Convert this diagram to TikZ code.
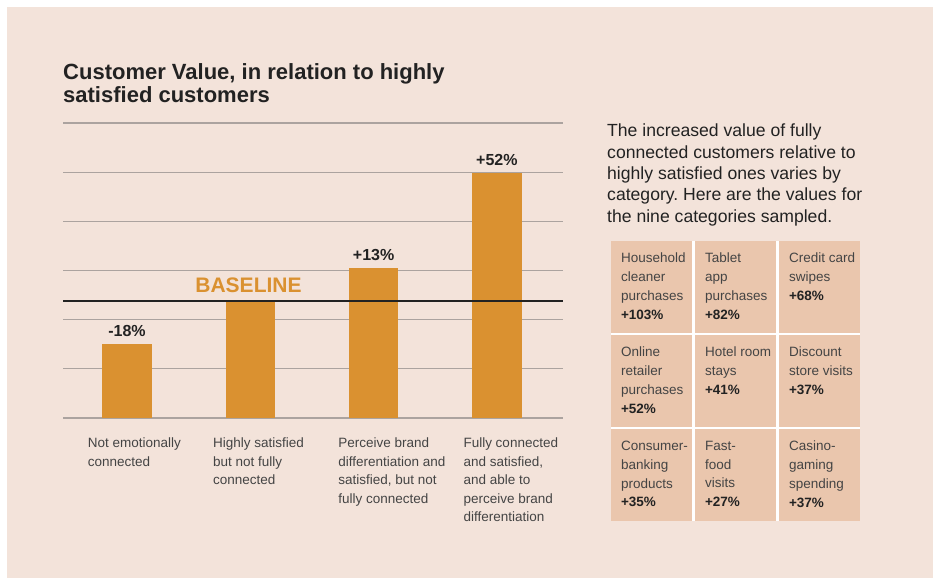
\documentclass[tikz,border=0pt]{standalone}
\usepackage{fontspec}
\setmainfont{Liberation Sans}
\frenchspacing
\definecolor{pagebg}{HTML}{F3E3DA}
\definecolor{barfill}{HTML}{DA9130}
\definecolor{cellfill}{HTML}{EAC6AD}
\definecolor{gridgrey}{HTML}{ABA39F}
\definecolor{inkdark}{HTML}{222222}
\definecolor{inkgrey}{HTML}{444444}

\begin{document}
\begin{tikzpicture}[x=1pt, y=-1pt]
	\tikzstyle{gridline}=[draw=gridgrey, line width=1.2pt]
	\tikzstyle{pct}=[anchor=base, text=inkdark, font=\fontsize{16}{16}\selectfont\bfseries]
	\tikzstyle{caption}=[anchor=north west, inner sep=0pt, align=left, text=inkgrey, font=\fontsize{13.5}{18.6}\selectfont]
	\tikzstyle{celltext}=[anchor=north west, inner sep=0pt, align=left, text=inkgrey, font=\fontsize{13.5}{18.7}\selectfont]
	\newcommand\Xleft{63}
	\newcommand\Xright{563}
	\newcommand\Ybottom{418}
	\newcommand\Ybase{301}
	\newcommand\Barw{49.4}

	\useasboundingbox (0,0) rectangle (933,578);
	\fill [pagebg] (7,7) rectangle (933,578);

	\node [anchor=north west, inner sep=0pt, align=left, text=inkdark, font=\fontsize{22}{23.5}\selectfont\bfseries] at (63,63.3) (title) {Customer Value, in relation to highly\\satisfied customers};

	% grid
\foreach \k in {0,...,6}
{
	\pgfmathsetmacro{\Y}{123 + \k * 49.17};
	\draw [gridline] (\Xleft,\Y) -- (\Xright,\Y);
}

	% bars
\foreach \i/\top/\val/\txt in {1/344/-18\%/{Not emotionally\\connected}, 2/301//{Highly satisfied\\but not fully\\connected}, 3/268/+13\%/{Perceive brand\\differentiation and\\satisfied, but not\\fully connected}, 4/173/+52\%/{Fully connected\\and satisfied,\\and able to\\perceive brand\\differentiation}}
{
	\pgfmathsetmacro{\XS}{102.3 + (\i - 1) * 123.3};
	\pgfmathsetmacro{\XT}{87.7 + (\i - 1) * 125.2};
	\fill [barfill] (\XS,\Ybottom) rectangle (\XS+\Barw,\top);
	\node [pct] (val\i) at (\XS+\Barw/2,\top-7.5) {\val};
	\node [caption] (cap\i) at (\XT,437.6) {\txt};
}

	\draw [draw=inkdark, line width=2.6pt] (\Xleft,\Ybase) -- (\Xright,\Ybase);
	\node [text=barfill, font=\fontsize{21}{21}\selectfont\bfseries] (baseline) at (248.5,285.7) {BASELINE};

	% right side
	\node [anchor=north west, inner sep=0pt, align=left, text=inkdark, font=\fontsize{17.6}{21.3}\selectfont] (intro) at (607,123.9) {The increased value of fully\\connected customers relative to\\highly satisfied ones varies by\\category. Here are the values for\\the nine categories sampled.};

	\fill [white] (611,241) rectangle (860,520.5);
\foreach \r/\c/\name/\val in {0/0/{Household\\cleaner\\purchases}/+103\%, 0/1/{Tablet\\app\\purchases}/+82\%, 0/2/{Credit card\\swipes}/+68\%, 1/0/{Online\\retailer\\purchases}/+52\%, 1/1/{Hotel room\\stays}/+41\%, 1/2/{Discount\\store visits}/+37\%, 2/0/{Consumer-\\banking\\products}/+35\%, 2/1/{Fast-\\food\\visits}/+27\%, 2/2/{Casino-\\gaming\\spending}/+37\%}
{
	\pgfmathsetmacro{\XC}{611 + \c * 84};
	\pgfmathsetmacro{\YC}{241 + \r * 94};
	\pgfmathtruncatemacro{\idx}{\r * 3 + \c + 1};
	\fill [cellfill] (\XC,\YC) rectangle (\XC+81,\YC+91.5);
	\node [celltext] (cell\idx) at (\XC+9.8,\YC+12) {\name\\\textcolor{inkdark}{\textbf{\val}}};
}

\end{tikzpicture}
\end{document}
